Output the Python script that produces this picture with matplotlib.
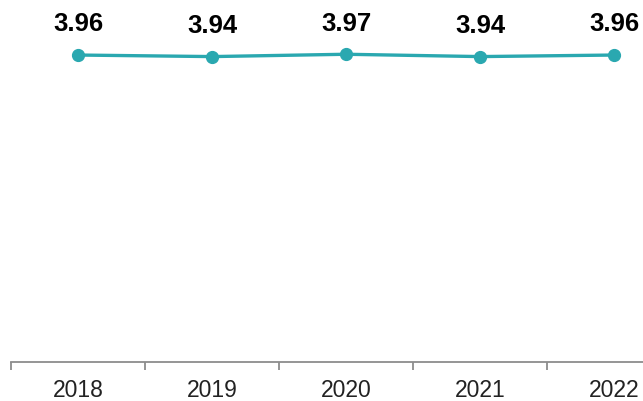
import matplotlib.pyplot as plt
import numpy as np

years = ['2018', '2019', '2020', '2021', '2022']
values = [3.96, 3.94, 3.97, 3.94, 3.96]
line_color = '#2aa8b0'


def plot_chart():
    plt.rcParams['font.family'] = ['Liberation Sans', 'DejaVu Sans']
    fig = plt.figure(figsize=(6.43, 4.01), dpi=100)
    ax = fig.add_axes([11 / 643, 39 / 401, 632 / 643, 362 / 401])

    x = np.arange(len(years))
    ax.plot(x, values, color=line_color, linewidth=2.4,
            marker='o', markersize=8.5, clip_on=False)
    for xi, v in zip(x, values):
        ax.annotate(f'{v:.2f}', (xi, v), xytext=(0, 17), textcoords='offset points',
                    ha='center', va='baseline', fontsize=18.5, fontweight='bold',
                    color='black')

    ax.set_xticks(x)
    ax.set_xticklabels(years, fontsize=16.5, color='#222222')
    ax.set_xticks(np.arange(-0.5, 5, 1), minor=True)
    ax.set_xlim(-0.5, 4.5 - 38 / 134)
    ax.set_ylim(0, 4.67)
    ax.tick_params(axis='x', which='major', length=0, pad=12)
    ax.tick_params(axis='x', which='minor', length=6, width=1.3, color='#8c8c8c')
    ax.set_yticks([])
    for side in ['top', 'right', 'left']:
        ax.spines[side].set_visible(False)
    ax.spines['bottom'].set_color('#8c8c8c')
    ax.spines['bottom'].set_linewidth(1.3)

    fig.savefig('out.png', dpi=100)


def main():
    plot_chart()


if __name__ == "__main__":
    main()
